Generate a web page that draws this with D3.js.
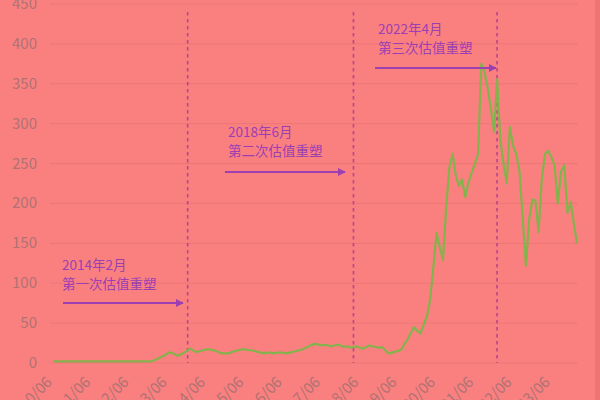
<!DOCTYPE html>
<html>
<head>
<meta charset="utf-8">
<script src="https://cdn.jsdelivr.net/npm/d3@7"></script>
<style>
html,body{margin:0;padding:0;background:#fa8080;}
svg{display:block;}
</style>
</head>
<body>
<svg id="chart" width="600" height="400"></svg>
<script>
// ---- data ----
const startMonth = "2010-08";
const values = [
  2,2,2,2,2,2,2,2,2,2,
  2,2,2,2,2,2,2,2,2,2,
  2,2,2,2,2,2,2,2,2,2,
  2,2.5,4,6,8,10,13,13,11,9,
  11,13,16,18,15,14,15,16,17,17,
  16,15,13,12,12,12,14,15,16,17,
  17,16,16,15,14,13,12,13,13,12,
  13,13,13,12,13,14,15,16,17,19,
  21,23,24,23,22,23,22,21,22,23,
  22,20,21,19,20,21,19,18,20,22,
  21,20,19,20,16,12,13,14,15,17,
  24,30,38,45,40,37,48,58,79,120,
  163,145,129,195,245,262,235,222,230,208,
  226,238,250,262,375,365,345,318,290,356,
  280,250,225,296,272,262,240,180,122,180,
  205,204,164,230,262,266,258,247,200,240,
  248,188,202,175,150
];
const xTickLabels = ["2010/06","2011/06","2012/06","2013/06","2014/06","2015/06","2016/06",
  "2017/06","2018/06","2019/06","2020/06","2021/06","2022/06","2023/06"];
const yTicks = [0,50,100,150,200,250,300,350,400,450];
const markerDates = ["2014-02","2018-06","2022-03"];
const markerTitles = ["2014年2月","2018年6月","2022年4月"];
const markerSubtitles = ["第一次估值重塑","第二次估值重塑","第三次估值重塑"];

// ---- layout ----
const svg = d3.select("#chart");
const parseM = d3.timeParse("%Y-%m");
const parseT = d3.timeParse("%Y/%m");
const start = parseM(startMonth);
const dates = values.map((v,i)=>d3.timeMonth.offset(start,i));
const data = values.map((v,i)=>({d:dates[i], v}));

const x = d3.scaleTime()
  .domain([parseT("2010/06"), parseT("2023/06")])
  .range([47, 545]);
const y = d3.scaleLinear().domain([0,450]).range([363,4]);

svg.append("rect").attr("width",600).attr("height",400).attr("fill","#fa8080");
svg.append("rect").attr("x",595).attr("width",5).attr("height",400).attr("fill","#ee7474");

// grid
svg.append("g").selectAll("line").data(yTicks).join("line")
  .attr("x1",50).attr("x2",578)
  .attr("y1",d=>y(d)).attr("y2",d=>y(d))
  .attr("stroke","#ec7676").attr("stroke-width",1);

// y labels
svg.append("g").selectAll("text").data(yTicks).join("text")
  .attr("x",37).attr("y",d=>y(d)+5)
  .attr("text-anchor","end")
  .attr("font-family","'Noto Sans CJK SC','Noto Sans',sans-serif")
  .attr("font-size",15)
  .attr("fill","#b07272")
  .text(d=>d);

// x labels
svg.append("g").selectAll("text").data(xTickLabels).join("text")
  .attr("transform",d=>`translate(${x(parseT(d))+6},383) rotate(-45)`)
  .attr("text-anchor","end")
  .attr("font-family","'Noto Sans CJK SC','Noto Sans',sans-serif")
  .attr("font-size",15)
  .attr("fill","#b07272")
  .text(d=>d);

// marker dashed lines
svg.append("g").selectAll("line").data(markerDates).join("line")
  .attr("x1",d=>x(parseM(d))).attr("x2",d=>x(parseM(d)))
  .attr("y1",12).attr("y2",363)
  .attr("stroke","#b5468f").attr("stroke-width",1.6)
  .attr("stroke-dasharray","3.5,3.5");

// line
const line = d3.line().x(d=>x(d.d)).y(d=>y(d.v));
svg.append("path").datum(data)
  .attr("d",line).attr("fill","none")
  .attr("stroke","#84b24c").attr("stroke-width",2.2)
  .attr("stroke-linejoin","round");

// annotations
const defs = svg.append("defs");
defs.append("marker").attr("id","arr").attr("viewBox","0 0 10 10")
  .attr("refX",9).attr("refY",5).attr("markerWidth",4).attr("markerHeight",4)
  .attr("orient","auto")
  .append("path").attr("d","M0,0L10,5L0,10z").attr("fill","#9b3fb3");

const ann = [
  {tx:62, ty1:270, ty2:289, ay:303, ax1:63, ax2:183},
  {tx:228, ty1:137, ty2:156, ay:172, ax1:225, ax2:345},
  {tx:378, ty1:34, ty2:53, ay:68, ax1:375, ax2:496}
];
const ag = svg.append("g");
ann.forEach((a,i)=>{
  ag.append("text").attr("x",a.tx).attr("y",a.ty1)
    .attr("font-family","'Noto Sans CJK SC',sans-serif").attr("font-size",13.5)
    .attr("fill","#9b3fb3").text(markerTitles[i]);
  ag.append("text").attr("x",a.tx).attr("y",a.ty2)
    .attr("font-family","'Noto Sans CJK SC',sans-serif").attr("font-size",13.5)
    .attr("fill","#9b3fb3").text(markerSubtitles[i]);
  ag.append("line").attr("x1",a.ax1).attr("x2",a.ax2).attr("y1",a.ay).attr("y2",a.ay)
    .attr("stroke","#9b3fb3").attr("stroke-width",2).attr("marker-end","url(#arr)");
});
</script>
</body>
</html>
